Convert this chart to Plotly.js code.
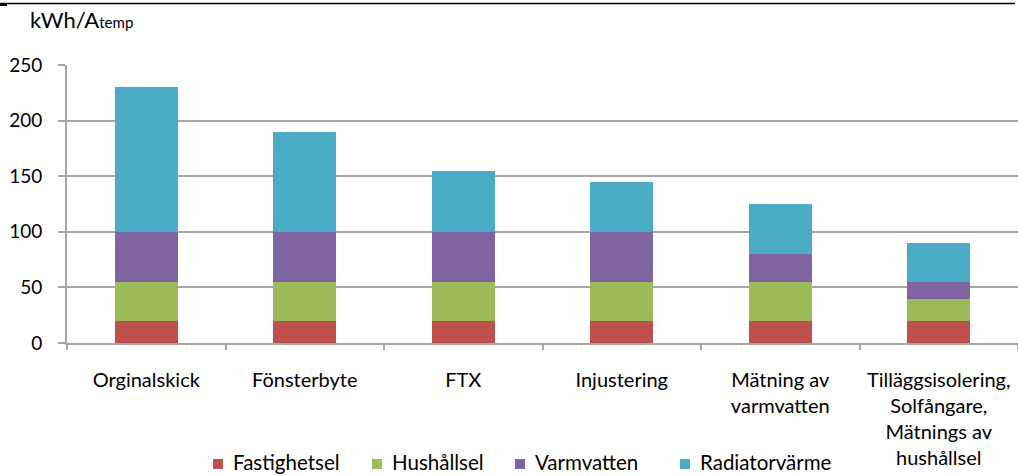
<!DOCTYPE html>
<html>
<head>
<meta charset="utf-8">
<script src="https://cdn.plot.ly/plotly-3.0.1.min.js"></script>
<style>html,body{margin:0;padding:0;background:#fff;}#chart{width:1018px;height:476px;}</style>
</head>
<body>
<div id="chart"></div>
<script>
const categories = [
  "Orginalskick",
  "Fönsterbyte",
  "FTX",
  "Injustering",
  "Mätning av<br>varmvatten",
  "Tilläggsisolering,<br>Solfångare,<br>Mätnings av<br>hushållsel"
];
const fastighetsel = [20, 20, 20, 20, 20, 20];
const hushallsel = [35, 35, 35, 35, 35, 20];
const varmvatten = [45, 45, 45, 45, 25, 15];
const radiatorvarme = [130, 90, 55, 45, 45, 35];
const seriesNames = ["Fastighetsel", "Hushållsel", "Varmvatten", "Radiatorvärme"];
const yTicks = [0, 50, 100, 150, 200, 250];

const colors = ["#C0504D", "#9BBB59", "#8064A2", "#4BACC6"];
const seriesData = [fastighetsel, hushallsel, varmvatten, radiatorvarme];
const font = "Lato, 'Open Sans', sans-serif";

// layout geometry (pixels)
const W = 1018, H = 476, ML = 67, MR = 0, MT = 65, MB = 133;
const PW = W - ML - MR, PH = H - MT - MB;
const px2x = p => (p - ML) / PW;
const px2y = p => (H - MB - p) / PH;
const legendPx = [213, 372, 515, 680];
const legendY = 462;

const traces = seriesData.map((vals, i) => ({
  type: "bar",
  name: seriesNames[i],
  x: categories,
  y: vals,
  width: 0.4,
  marker: {color: colors[i], line: {width: 0}},
  hoverinfo: "none",
  showlegend: false
}));

const shapes = [
  {type: "line", xref: "paper", yref: "paper", x0: px2x(0), x1: px2x(1015), y0: px2y(3.5), y1: px2y(3.5),
   line: {color: "#000", width: 1.5}},
  {type: "line", xref: "paper", yref: "paper", x0: px2x(0), x1: px2x(7), y0: px2y(4.5), y1: px2y(4.5),
   line: {color: "#000", width: 3}}
];
const annotations = [{
  xref: "paper", yref: "paper",
  x: px2x(28), y: px2y(20),
  xanchor: "left", yanchor: "middle",
  showarrow: false,
  text: "kWh/A<span style='font-size:15px'>temp</span>",
  font: {family: font, size: 22, color: "#000"}
}];
seriesNames.forEach((name, i) => {
  const x0 = legendPx[i];
  shapes.push({
    type: "rect", xref: "paper", yref: "paper",
    x0: px2x(x0), x1: px2x(x0 + 10),
    y0: px2y(legendY + 7), y1: px2y(legendY - 3),
    fillcolor: colors[i], line: {width: 0}
  });
  annotations.push({
    xref: "paper", yref: "paper",
    x: px2x(x0 + 18), y: px2y(legendY),
    xanchor: "left", yanchor: "middle",
    showarrow: false,
    text: name,
    font: {family: font, size: 20.5, color: "#000"}
  });
});

const layout = {
  width: W,
  height: H,
  margin: {l: ML, r: MR, t: MT, b: MB, autoexpand: false},
  barmode: "stack",
  paper_bgcolor: "#fff",
  plot_bgcolor: "#fff",
  showlegend: false,
  font: {family: font, size: 20, color: "#000"},
  xaxis: {
    type: "category",
    automargin: false,
    tickson: "boundaries",
    ticks: "outside",
    ticklen: 5,
    tickcolor: "#a6a6a6",
    tickwidth: 2,
    showline: true,
    linecolor: "#a6a6a6",
    linewidth: 2,
    showgrid: false,
    tickfont: {family: font, size: 20, color: "#000"},
    ticklabelstandoff: 18,
    fixedrange: true
  },
  yaxis: {
    automargin: false,
    range: [0, 250],
    tickvals: yTicks,
    ticktext: yTicks.map(String),
    ticks: "outside",
    ticklen: 7,
    tickcolor: "#a6a6a6",
    tickwidth: 2,
    showline: true,
    linecolor: "#a6a6a6",
    linewidth: 2,
    showgrid: true,
    gridcolor: "#a6a6a6",
    gridwidth: 2,
    zeroline: false,
    tickfont: {family: font, size: 19, color: "#000"},
    ticklabelstandoff: 12,
    fixedrange: true
  },
  annotations: annotations,
  shapes: shapes
};

Plotly.newPlot("chart", traces, layout, {displayModeBar: false, staticPlot: true});
</script>
</body>
</html>
